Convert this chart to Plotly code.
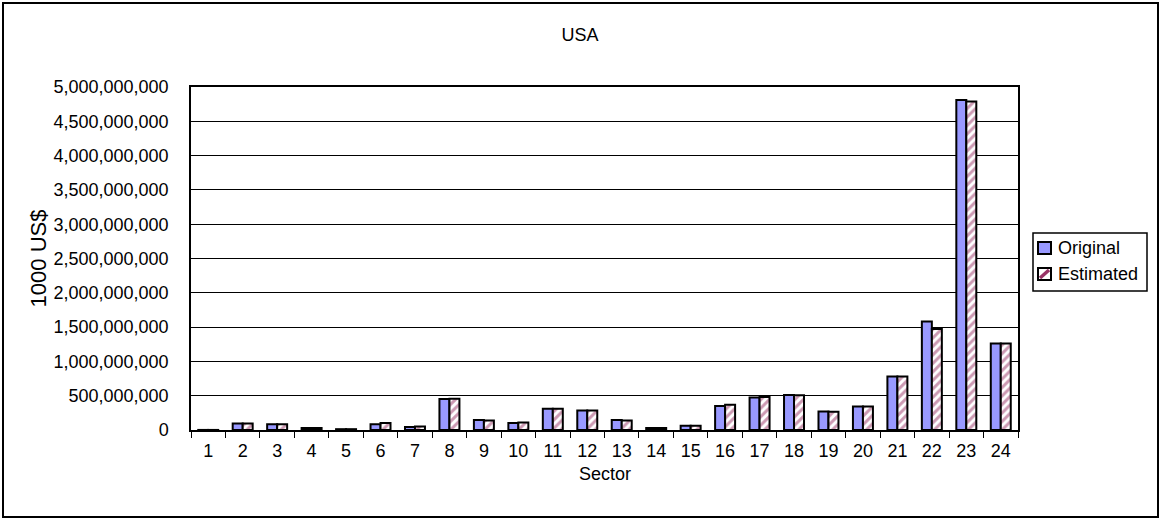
import plotly.graph_objects as go

sectors = [str(i) for i in range(1, 25)]
original = [1e6, 96e6, 82e6, 29e6, 12e6, 82e6, 44e6, 452e6, 146e6, 102e6, 310e6, 286e6,
            146e6, 29e6, 63e6, 350e6, 475e6, 510e6, 270e6, 344e6, 780e6, 1583e6, 4810e6, 1262e6]
estimated = [1e6, 96e6, 82e6, 29e6, 12e6, 102e6, 52e6, 455e6, 140e6, 110e6, 310e6, 286e6,
             140e6, 29e6, 63e6, 369e6, 480e6, 505e6, 265e6, 344e6, 780e6, 1472e6, 4790e6, 1262e6]
series_names = ["Original", "Estimated"]
y_ticks = [i * 500_000_000 for i in range(11)]

W, H = 1160, 519
L, R, T, B = 191, 142, 87, 89
pw, ph = W - L - R, H - T - B
BLUE, HATCH = "#9999FF", "#993366"
font = dict(family="Liberation Sans, Arial, sans-serif", size=18, color="black")


def px(x):
    return (x - L) / pw


def py(y):
    return (H - B - y) / ph


fig = go.Figure()
fig.add_trace(go.Bar(
    x=sectors, y=original, name=series_names[0], showlegend=False,
    marker=dict(color=BLUE, line=dict(color="black", width=2)),
))
fig.add_trace(go.Bar(
    x=sectors, y=estimated, name=series_names[1], showlegend=False,
    marker=dict(color="white", line=dict(color="black", width=2),
                pattern=dict(shape="/", fgcolor=HATCH, bgcolor="white",
                             size=6, solidity=0.5, fillmode="overlay")),
))

fig.update_layout(
    width=W, height=H,
    margin=dict(l=L, r=R, t=T, b=B, autoexpand=False),
    paper_bgcolor="white", plot_bgcolor="white",
    font=font,
    barmode="group", bargap=0.42, bargroupgap=0,
    title=dict(text="USA", x=0.5, xref="container", xanchor="center",
               y=1 - 35 / H, yanchor="middle", yref="container",
               font=dict(size=18)),
    xaxis=dict(type="category",
               showline=True, linecolor="black", linewidth=1.5, mirror=True,
               ticks="outside", tickson="boundaries", ticklen=6, tickcolor="black",
               showgrid=False, ticklabelstandoff=4),
    yaxis=dict(range=[0, 5e9], tickvals=y_ticks,
               ticktext=[f"{v:,}" for v in y_ticks],
               title=dict(text="1000 US$", standoff=1),
               showline=True, linecolor="black", linewidth=1.5, mirror=True,
               showgrid=True, gridcolor="black", gridwidth=1,
               ticks="", ticklabelstandoff=17, zeroline=False),
)

# x-axis title
fig.add_annotation(text="Sector", xref="paper", yref="paper", x=0.5, y=py(474),
                   xanchor="center", yanchor="middle", showarrow=False, font=dict(size=18))

# legend box
fig.add_shape(type="rect", xref="paper", yref="paper",
              x0=px(1033), x1=px(1147), y0=py(291), y1=py(233),
              line=dict(color="black", width=1.5), fillcolor="white")
fig.add_shape(type="rect", xref="paper", yref="paper",
              x0=px(1038), x1=px(1051), y0=py(254), y1=py(242),
              line=dict(color="black", width=2), fillcolor=BLUE)
fig.add_shape(type="rect", xref="paper", yref="paper",
              x0=px(1038), x1=px(1051), y0=py(280), y1=py(268),
              line=dict(color="black", width=2), fillcolor="white")
fig.add_shape(type="line", xref="paper", yref="paper",
              x0=px(1040), x1=px(1049), y0=py(278), y1=py(270),
              line=dict(color=HATCH, width=3.5))
for name, yc in zip(series_names, [248, 274]):
    fig.add_annotation(text=name, xref="paper", yref="paper", x=px(1056), y=py(yc),
                       xanchor="left", yanchor="middle", showarrow=False, font=dict(size=18))

# outer chart border
fig.add_shape(type="rect", xref="paper", yref="paper",
              x0=px(3), x1=px(W - 2), y0=py(H - 2), y1=py(3),
              line=dict(color="black", width=2), layer="below")

fig.write_html("out.html", config={"displayModeBar": False},
               post_script="document.body.style.margin='0';document.body.style.overflow='hidden';")
